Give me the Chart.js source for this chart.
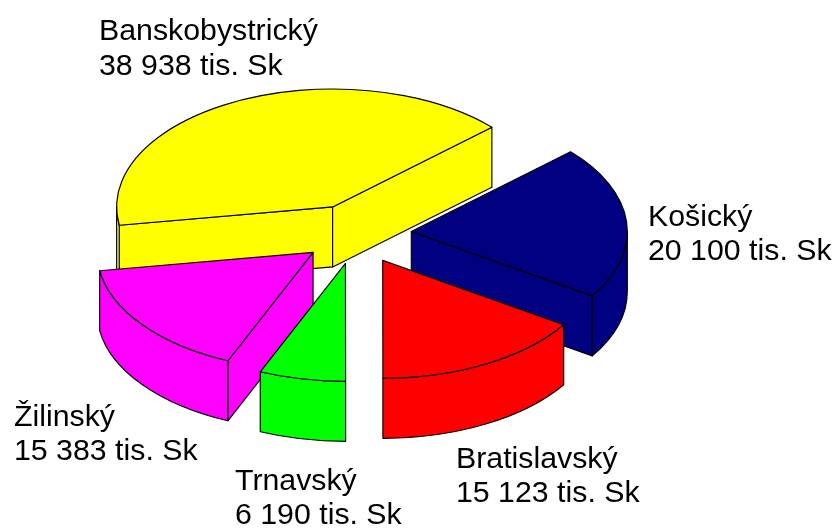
<!DOCTYPE html>
<html>
<head>
<meta charset="utf-8">
<script src="https://cdn.jsdelivr.net/npm/chart.js@4"></script>
<style>
    html, body { margin: 0; padding: 0; background: #fff; }
    #wrap { width: 834px; height: 528px; }
</style>
</head>
<body>
<div id="wrap"><canvas id="pie"></canvas></div>
<script>
// data, clockwise from the navy slice
const categories = ['Košický', 'Bratislavský', 'Trnavský', 'Žilinský', 'Banskobystrický'];
const values = [20100, 15123, 6190, 15383, 38938];
const sliceColors = ['#000080', '#ff0000', '#00ff00', '#ff00ff', '#ffff00'];
const unit = 'tis. Sk';

// look of the fake 3D
const squash = 0.546;
const depth = 60;
const explode = 55;
const radius = 216;

// top left of each label, same order as categories
const labelX = [648, 456, 235, 14, 99];
const labelY = [217.5, 459.5, 481.5, 417.5, 32];
const labelFont = '30.3px "Liberation Sans"';
const lineGap = 34.5;

function formatValue(v) {
    return String(v).replace(/\B(?=(\d{3})+$)/g, ' ') + ' ' + unit;
}

function paintPath(ctx, color) {
    ctx.fillStyle = color;
    ctx.fill();
    ctx.stroke();
}

// side walls, only what faces the viewer
function drawWalls(ctx, s) {
    const cosA = Math.cos(s.start), sinA = Math.sin(s.start);
    const cosB = Math.cos(s.end), sinB = Math.sin(s.end);
    const ry = s.r * squash;

    if (cosA < -0.001) {
        ctx.beginPath();
        ctx.moveTo(s.x, s.y);
        ctx.lineTo(s.x + cosA * s.r, s.y + sinA * ry);
        ctx.lineTo(s.x + cosA * s.r, s.y + sinA * ry + depth);
        ctx.lineTo(s.x, s.y + depth);
        ctx.closePath();
        paintPath(ctx, s.color);
    }
    if (cosB > 0.001) {
        ctx.beginPath();
        ctx.moveTo(s.x, s.y);
        ctx.lineTo(s.x + cosB * s.r, s.y + sinB * ry);
        ctx.lineTo(s.x + cosB * s.r, s.y + sinB * ry + depth);
        ctx.lineTo(s.x, s.y + depth);
        ctx.closePath();
        paintPath(ctx, s.color);
    }

    const from = Math.max(s.start, 0);
    const to = Math.min(s.end, Math.PI);
    if (from < to) {
        ctx.beginPath();
        ctx.ellipse(s.x, s.y, s.r, ry, 0, from, to);
        ctx.ellipse(s.x, s.y + depth, s.r, ry, 0, to, from, true);
        ctx.closePath();
        paintPath(ctx, s.color);
    }
}

const pie3d = {
    id: 'pie3d',
    // the slices have to be painted back to front, so take over the loop
    beforeDatasetDraw(chart, args) {
        const ctx = chart.ctx;
        const slices = args.meta.data.map((arc, i) => {
            const mid = (arc.startAngle + arc.endAngle) / 2;
            return {
                arc: arc,
                color: sliceColors[i],
                start: arc.startAngle,
                end: arc.endAngle,
                r: arc.outerRadius,
                x: arc.x + Math.cos(mid) * explode,
                y: arc.y + Math.sin(mid) * explode * squash
            };
        });
        slices.sort((a, b) => a.y - b.y);

        ctx.save();
        ctx.strokeStyle = '#000';
        ctx.lineWidth = 1.15;
        ctx.lineJoin = 'round';
        slices.forEach(s => {
            drawWalls(ctx, s);

            // top face, the library's own arc under a squashed transform
            ctx.save();
            ctx.translate(s.x, s.y);
            ctx.scale(1, squash);
            ctx.translate(-s.arc.x, -s.arc.y);
            s.arc.draw(ctx);
            ctx.restore();

            ctx.beginPath();
            ctx.moveTo(s.x, s.y);
            ctx.ellipse(s.x, s.y, s.r, s.r * squash, 0, s.start, s.end);
            ctx.closePath();
            ctx.stroke();
        });
        ctx.restore();
        return false;
    },
    afterDraw(chart) {
        const ctx = chart.ctx;
        ctx.save();
        ctx.fillStyle = '#000';
        ctx.font = labelFont;
        ctx.textBaseline = 'middle';
        categories.forEach((name, i) => {
            ctx.fillText(name, labelX[i], labelY[i]);
            ctx.fillText(formatValue(values[i]), labelX[i], labelY[i] + lineGap);
        });
        ctx.restore();
    }
};

new Chart(document.getElementById('pie'), {
    type: 'pie',
    data: {
        labels: categories,
        datasets: [{
            data: values,
            backgroundColor: sliceColors,
            borderWidth: 0
        }]
    },
    options: {
        responsive: true,
        maintainAspectRatio: false,
        animation: false,
        radius: radius,
        rotation: 47.5,
        layout: { padding: { right: 121, bottom: 60 } },
        plugins: { legend: { display: false }, tooltip: { enabled: false } }
    },
    plugins: [pie3d]
});
</script>
</body>
</html>
